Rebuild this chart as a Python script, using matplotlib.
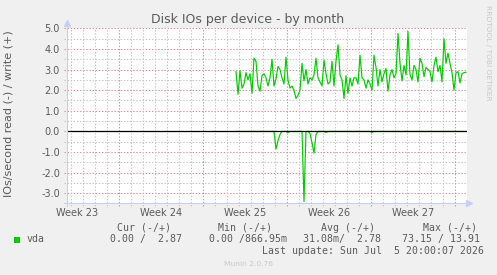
import numpy as np
import matplotlib
matplotlib.use('Agg')
import matplotlib.pyplot as plt
from matplotlib.patches import Rectangle

# --- data ---
week_labels = ['Week 23', 'Week 24', 'Week 25', 'Week 26', 'Week 27']
week_start = 4.36          # day of first week gridline
n_days = 33.333            # graph spans ~33 days
t0 = 14.083                # first sample (day)
step = 1.0 / 6             # 4-hour samples

write_vals = [
    2.9, 1.8, 2.94, 2.1, 2.3, 2.85, 2.5, 2.8, 1.85, 3.55, 3.4, 2.2, 1.95, 2.7, 2.8, 2.6, 2.2, 2.6, 3.5, 2.2,
    2.55, 3.15, 3.0, 2.6, 2.3, 3.6, 2.5, 2.1,
    2.2, 2.0, 1.6, 1.75, 2.0, 3.3, 2.45, 3.0, 2.3, 2.6, 2.5, 2.75, 3.55, 2.6, 2.4, 2.2, 3.45, 2.8, 2.3, 2.4,
    3.4, 2.2, 3.4, 4.2, 2.75, 2.5, 1.6, 2.7,
    1.85, 2.6, 2.2, 2.6, 2.6, 2.3, 3.7, 2.6, 2.5, 2.1, 2.5, 2.3, 2.0, 3.7, 3.1, 2.2, 3.0, 2.4, 2.8, 3.05,
    1.95, 2.74, 3.0, 2.6, 2.8, 4.75, 3.3, 2.45, 3.2, 2.74,
    4.85, 2.75, 2.5, 3.2, 3.0, 2.4, 3.55, 3.3, 2.65, 3.1, 3.0, 2.9, 2.4, 3.2, 3.6, 2.9, 3.2, 2.4, 4.5, 3.3,
    3.8, 3.3, 2.85, 2.0, 2.85, 2.9, 2.35, 2.8, 2.85, 2.87]
read_vals = [
    0, 0, 0, 0, 0, 0, 0, 0, 0, 0, 0, 0, 0, 0, 0, 0, 0, 0, 0, 0,
    0.85, 0.45, 0.15, 0, 0, 0, 0.05, 0, 0, 0, 0, 0, 0, 0, 3.4, 0, 0, 0.1, 0.56, 1.05,
    0.15, 0, 0, 0, 0, 0.05, 0, 0, 0, 0, 0, 0, 0, 0, 0, 0, 0, 0, 0, 0,
    0, 0, 0, 0, 0, 0, 0, 0, 0.05, 0, 0, 0, 0, 0, 0, 0, 0, 0, 0, 0,
    0, 0, 0, 0, 0, 0, 0, 0, 0, 0, 0, 0, 0, 0, 0, 0, 0, 0, 0, 0,
    0, 0, 0, 0, 0, 0, 0, 0, 0, 0, 0, 0, 0, 0, 0, 0]

y_ticks = [-3.0, -2.0, -1.0, 0.0, 1.0, 2.0, 3.0, 4.0, 5.0]

BG = '#f0f0f0'
TXT = '#5a5a5a'
GREEN = '#00cc00'
AXC = '#c8cff4'
MGRID = '#e08c8c'
GRID = '#c4c4c4'

W, H = 497, 275
fig = plt.figure(figsize=(W / 100, H / 100), dpi=100, facecolor=BG)
ax = fig.add_axes([67 / W, (H - 203) / H, 400 / W, 175 / H], facecolor='white')
ylo, yhi = -3.47, 5.015
ax.set_xlim(0, n_days)
ax.set_ylim(ylo, yhi)
for s in ax.spines.values():
    s.set_visible(False)

px_x = n_days / 400.0
px_y = (yhi - ylo) / 175.0
dash = (0, (1.3, 1.7))

# horizontal grid
for v in np.arange(-3.0, 5.01, 0.5):
    major = abs(v - round(v)) < 1e-6
    ax.plot([-3.5 * px_x, n_days], [v, v], color=MGRID if major else GRID,
            lw=0.75, ls=dash, clip_on=False, zorder=1)
# vertical grid
for k in range(-4, 34):
    d = week_start + k
    if d < 0 or d > n_days:
        continue
    major = (k % 7 == 0)
    ax.plot([d, d], [ylo - 3 * px_y, yhi], color=MGRID if major else GRID,
            lw=0.75, ls=dash, clip_on=False, zorder=1)

t = t0 + step * np.arange(len(write_vals))
ax.plot(t, write_vals, color=GREEN, lw=0.85, zorder=3)
ax.plot(t, -np.array(read_vals), color=GREEN, lw=0.85, zorder=3)
ax.axhline(0, color='black', lw=0.9, zorder=4)

# axes with arrows
ax.plot([0, 0], [ylo - 3 * px_y, yhi + 5 * px_y], color=AXC, lw=0.8, clip_on=False, zorder=5)
ax.plot([0], [yhi + 5 * px_y], marker='^', ms=4, color=AXC, mec=AXC, clip_on=False, zorder=5)
ax.plot([-3 * px_x, n_days + 2 * px_x], [ylo, ylo], color=AXC, lw=0.8, clip_on=False, zorder=5)
ax.plot([n_days + 2 * px_x], [ylo], marker='>', ms=4, color=AXC, mec=AXC, clip_on=False, zorder=5)

week_pos = [week_start - 3.5 + 7 * i for i in range(len(week_labels))]
ax.set_xticks(week_pos, labels=week_labels)
ax.set_yticks(y_ticks, labels=['%.1f' % v for v in y_ticks])
ax.tick_params(length=0, labelsize=7, labelcolor=TXT)
ax.tick_params(axis='x', pad=3.5)
ax.tick_params(axis='y', pad=5)

fig.text(248 / W, 1 - 19 / H, 'Disk IOs per device - by month', ha='center', va='center',
         fontsize=9, color=TXT)
fig.text(8.5 / W, 1 - 113.7 / H, 'IOs/second read (-) / write (+)', rotation=90,
         ha='center', va='center', fontsize=8, color=TXT)
fig.text(488 / W, 1 - 53 / H, 'RRDTOOL / TOBI OETIKER', rotation=270,
         ha='center', va='center', fontsize=5.4, color='#c8c8c8')

# legend
mono = dict(family='DejaVu Sans Mono', fontsize=7.1, color=TXT, va='center', ha='left')
hy = 1 - 227.7 / H
vy = 1 - 239.3 / H
fig.text(116.7 / W, hy, 'Cur (-/+)', **mono)
fig.text(218.3 / W, hy, 'Min (-/+)', **mono)
fig.text(321 / W, hy, 'Avg (-/+)', **mono)
fig.text(422.7 / W, hy, 'Max (-/+)', **mono)
fig.patches.append(Rectangle((14 / W, 1 - 242.5 / H), 6 / W, 6 / H, transform=fig.transFigure,
                             color=GREEN, lw=0))
fig.text(26.7 / W, vy, 'vda', **mono)
fig.text(110 / W, vy, '0.00 /  2.87', **mono)
fig.text(209.3 / W, vy, '0.00 /866.95m', **mono)
fig.text(302.7 / W, vy, '31.08m/  2.78', **mono)
fig.text(401.7 / W, vy, '73.15 / 13.91', **mono)
fig.text(261.7 / W, 1 - 251 / H, 'Last update: Sun Jul  5 20:00:07 2026', **mono)
fig.text(248 / W, 1 - 264.3 / H, 'Munin 2.0.76', ha='center', va='center', fontsize=5.4,
         color='#c8c8c8')

fig.savefig('out.png', dpi=100, facecolor=BG)
